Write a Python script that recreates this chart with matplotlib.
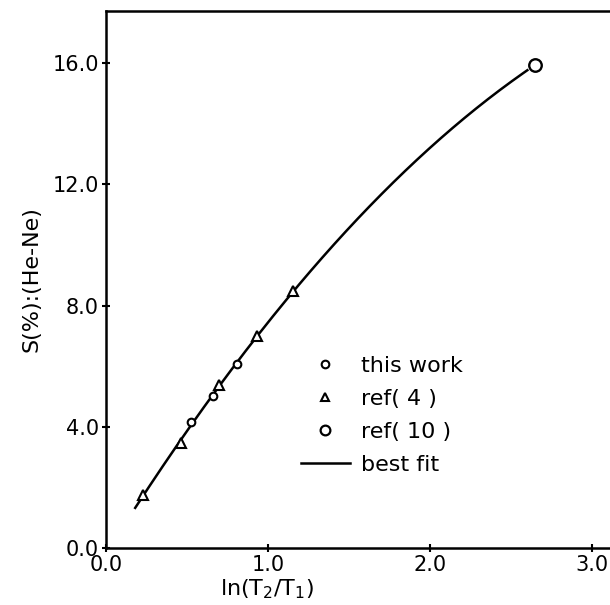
import numpy as np
import matplotlib.pyplot as plt
from matplotlib.lines import Line2D

# values
this_work_x = [0.525, 0.659, 0.81]
this_work_y = [4.17, 5.03, 6.06]

ref4_x = [0.23, 0.463, 0.70, 0.93, 1.156]
ref4_y = [1.75, 3.48, 5.38, 7.00, 8.49]

ref10_x = [2.648]
ref10_y = [15.94]

fit_range = (0.18, 2.60)

plt.rcParams['font.family'] = 'DejaVu Sans'

fig = plt.figure(figsize=(6.1, 6.05), dpi=100)
ax = fig.add_axes([0.1738, 0.0942, 0.8262, 0.8876])

# best fit: quadratic through all points
all_x = np.array(this_work_x + ref4_x + ref10_x)
all_y = np.array(this_work_y + ref4_y + ref10_y)
coef = np.polyfit(all_x, all_y, 2)
xf = np.linspace(fit_range[0], fit_range[1], 200)
ax.plot(xf, np.polyval(coef, xf), color='black', lw=1.8, zorder=1)

ax.plot(this_work_x, this_work_y, 'o', ms=5.5, mfc='white', mec='black', mew=1.5, zorder=3)
ax.plot(ref4_x, ref4_y, '^', ms=7, mfc='white', mec='black', mew=1.5, zorder=3)
ax.plot(ref10_x, ref10_y, 'o', ms=9, mfc='white', mec='black', mew=1.7, zorder=3)

ax.set_xlim(0, 3.11)
ax.set_ylim(0, 17.72)
ax.set_xticks([0, 1, 2, 3])
ax.set_xticklabels(['0.0', '1.0', '2.0', '3.0'])
ax.set_yticks([0, 4, 8, 12, 16])
ax.set_yticklabels(['0.0', '4.0', '8.0', '12.0', '16.0'])
ax.tick_params(direction='inout', length=6, width=1.5, labelsize=15, pad=2)

for s in ['left', 'bottom', 'top']:
    ax.spines[s].set_linewidth(1.8)
ax.spines['right'].set_visible(False)

ax.set_xlabel(r'ln(T$_2$/T$_1$)', fontsize=16, labelpad=0)
ax.xaxis.set_label_coords(0.32, -0.055)
ax.set_ylabel('S(%):(He-Ne)', fontsize=16, labelpad=8)

handles = [
    Line2D([], [], ls='none', marker='o', ms=5.5, mfc='white', mec='black', mew=1.5),
    Line2D([], [], ls='none', marker='^', ms=6, mfc='white', mec='black', mew=1.5),
    Line2D([], [], ls='none', marker='o', ms=7, mfc='white', mec='black', mew=1.6),
    Line2D([], [], color='black', lw=1.8),
]
ax.legend(handles, ['this work', 'ref( 4 )', 'ref( 10 )', 'best fit'],
          loc='upper left', bbox_to_anchor=(0.369, 0.374), frameon=False,
          fontsize=16, handlelength=2.2, handletextpad=0.5, labelspacing=0.58,
          borderaxespad=0)

fig.savefig('out.png', dpi=100)
plt.close(fig)
